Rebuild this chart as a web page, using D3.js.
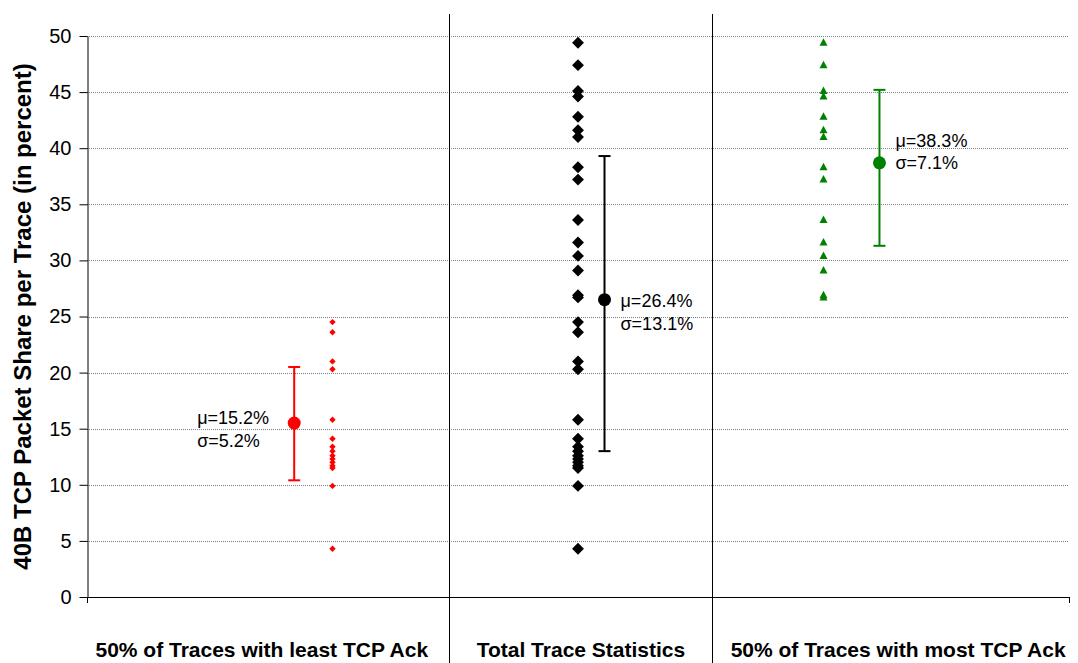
<!DOCTYPE html>
<html>
<head>
<meta charset="utf-8">
<script src="https://cdn.jsdelivr.net/npm/d3@7"></script>
<style>
  body { margin: 0; background: #fff; }
  svg { display: block; font-family: Arial, "Liberation Sans", sans-serif; }
</style>
</head>
<body>
<div id="chart"></div>
<script>
// values (percent)
const leastAckValues = [24.5, 23.6, 21.0, 20.3, 15.8, 14.1, 13.4, 13.0, 12.6, 12.3, 12.0, 11.7, 11.5, 9.9, 4.3];
const mostAckValues = [49.4, 47.4, 45.1, 44.6, 42.8, 41.6, 41.0, 38.3, 37.2, 33.6, 31.6, 30.4, 29.1, 26.9, 26.7];
const totalValues = leastAckValues.concat(mostAckValues);

const categoryNames = ['50% of Traces with least TCP Ack', 'Total Trace Statistics', '50% of Traces with most TCP Ack'];
// x position of each point column on the 0..10 horizontal scale
const columnX = [2.5, 5.0, 7.5];
const dividerX = [3.69, 6.36];
const labelX = [1.78, 5.03, 8.26];

// mean markers with error bar ends, as drawn
const statX = [2.11, 5.27, 8.07];
const statMean = [15.5, 26.5, 38.7];
const statLow = [10.4, 13.0, 31.3];
const statHigh = [20.5, 39.3, 45.2];
const muText = ['\u03bc=15.2%', '\u03bc=26.4%', '\u03bc=38.3%'];
const sigmaText = ['\u03c3=5.2%', '\u03c3=13.1%', '\u03c3=7.1%'];

const yTicks = [0, 5, 10, 15, 20, 25, 30, 35, 40, 45, 50];
const colors = ['#ff0000', '#000000', '#008000'];

const width = 1078, height = 663;
const margin = {top: 36, right: 9, bottom: 66, left: 87};

const svg = d3.select('#chart').append('svg')
  .attr('width', width)
  .attr('height', height);

const x = d3.scaleLinear().domain([0, 10]).range([margin.left, width - margin.right]);
const y = d3.scaleLinear().domain([0, 50]).range([height - margin.bottom, margin.top]);

// gridlines
svg.append('g')
  .selectAll('line')
  .data(yTicks.filter(d => d > 0))
  .join('line')
  .attr('x1', x(0)).attr('x2', x(10))
  .attr('y1', d => Math.round(y(d)) + 0.5).attr('y2', d => Math.round(y(d)) + 0.5)
  .attr('stroke', '#808080')
  .attr('stroke-dasharray', '1,1');

// y axis
const yAxis = svg.append('g')
  .attr('transform', `translate(${x(0) + 0.5},0)`)
  .call(d3.axisLeft(y).tickValues(yTicks).tickSize(8).tickSizeOuter(0).tickPadding(8));
yAxis.select('.domain').attr('stroke', '#000');
yAxis.selectAll('.tick line').attr('stroke', '#000');
yAxis.selectAll('.tick text')
  .attr('font-size', 20)
  .attr('font-family', 'Arial, "Liberation Sans", sans-serif')
  .attr('fill', '#000');

// x axis line with end ticks
svg.append('line')
  .attr('x1', x(0)).attr('x2', x(10))
  .attr('y1', Math.round(y(0)) + 0.5).attr('y2', Math.round(y(0)) + 0.5)
  .attr('stroke', '#000');
svg.append('g')
  .selectAll('line')
  .data([0, 10])
  .join('line')
  .attr('x1', d => Math.round(x(d)) + 0.5).attr('x2', d => Math.round(x(d)) + 0.5)
  .attr('y1', y(0)).attr('y2', y(0) + 6)
  .attr('stroke', '#000');

// category dividers
svg.append('g')
  .selectAll('line')
  .data(dividerX)
  .join('line')
  .attr('x1', d => Math.round(x(d)) + 0.5).attr('x2', d => Math.round(x(d)) + 0.5)
  .attr('y1', 14).attr('y2', height)
  .attr('stroke', '#000');

// category labels
svg.append('g')
  .selectAll('text')
  .data(categoryNames)
  .join('text')
  .attr('x', (d, i) => x(labelX[i]))
  .attr('y', 657)
  .attr('text-anchor', 'middle')
  .attr('font-size', 21)
  .attr('font-weight', 'bold')
  .text(d => d);

// y axis title
svg.append('text')
  .attr('transform', `translate(31,${(y(0) + y(50)) / 2}) rotate(-90)`)
  .attr('text-anchor', 'middle')
  .attr('font-size', 24)
  .attr('font-weight', 'bold')
  .text('40B TCP Packet Share per Trace (in percent)');

// error bars
const bars = svg.append('g');
statX.forEach((sx, i) => {
  const g = bars.append('g').attr('stroke', colors[i]).attr('stroke-width', 2);
  g.append('line').attr('x1', x(sx)).attr('x2', x(sx)).attr('y1', y(statLow[i])).attr('y2', y(statHigh[i]));
  g.append('line').attr('x1', x(sx) - 6).attr('x2', x(sx) + 6).attr('y1', y(statLow[i])).attr('y2', y(statLow[i]));
  g.append('line').attr('x1', x(sx) - 6).attr('x2', x(sx) + 6).attr('y1', y(statHigh[i])).attr('y2', y(statHigh[i]));
  bars.append('circle')
    .attr('cx', x(sx)).attr('cy', y(statMean[i])).attr('r', 6.5)
    .attr('fill', colors[i]);
});

// point columns
const diamond = d3.symbol().type(d3.symbolDiamond2);
svg.append('g')
  .selectAll('path')
  .data(leastAckValues)
  .join('path')
  .attr('transform', d => `translate(${x(columnX[0])},${y(d)})`)
  .attr('d', diamond.size(26)())
  .attr('fill', colors[0]);

svg.append('g')
  .selectAll('path')
  .data(totalValues)
  .join('path')
  .attr('transform', d => `translate(${x(columnX[1])},${y(d)})`)
  .attr('d', diamond.size(90)())
  .attr('fill', colors[1]);

svg.append('g')
  .selectAll('path')
  .data(mostAckValues)
  .join('path')
  .attr('transform', d => `translate(${x(columnX[2])},${y(d) - 0.5})`)
  .attr('d', 'M0,-4L4,3.5L-4,3.5Z')
  .attr('fill', colors[2]);

// mean / sigma annotations
const notes = [
  {dx: -97, dy1: 1, dy2: 24},
  {dx: 16, dy1: 7, dy2: 30},
  {dx: 16, dy1: -16, dy2: 6}
];
const noteGroup = svg.append('g').attr('font-size', 18).attr('fill', '#000');
notes.forEach((n, i) => {
  const px = x(statX[i]) + n.dx, py = y(statMean[i]);
  noteGroup.append('text').attr('x', px).attr('y', py + n.dy1).text(muText[i]);
  noteGroup.append('text').attr('x', px).attr('y', py + n.dy2).text(sigmaText[i]);
});
</script>
</body>
</html>
